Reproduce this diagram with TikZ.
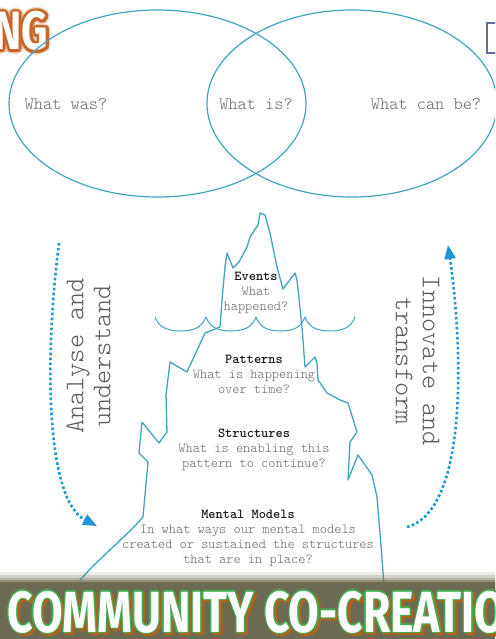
\documentclass[tikz,border=0pt]{standalone}
\usepackage{fontspec}
\setmonofont{Latin Modern Mono Light}
\newfontfamily\bannerfont{Fira Sans}
\usetikzlibrary{arrows.meta,calc}

\definecolor{ice}{RGB}{66,164,188}
\definecolor{flow}{RGB}{28,150,212}
\definecolor{label}{RGB}{100,100,100}
\definecolor{head}{RGB}{25,25,25}
\definecolor{rust}{RGB}{200,102,38}
\definecolor{olive}{RGB}{108,106,80}
\definecolor{leaf}{RGB}{70,170,80}
\definecolor{shade}{RGB}{170,100,30}
\definecolor{slate}{RGB}{96,110,150}

\newcommand\headword{\bannerfont\bfseries\fontsize{54}{54}\selectfont\scalebox{0.76}[1]{NG}}
\newcommand\bannerword{\bannerfont\bfseries\fontsize{58}{58}\selectfont\scalebox{0.765}[1]{COMMUNITY CO-CREATIO}}

\begin{document}
\begin{tikzpicture}[x=1pt,y=-1pt,
  outline/.style={draw=ice, line width=1.3pt, line join=round},
  question/.style={font=\ttfamily\fontsize{17.5}{20}\selectfont, text=label},
  level/.style={font=\ttfamily\fontsize{13.7}{15}\selectfont, text=label, align=center},
  aside/.style={font=\ttfamily\fontsize{27}{27}\selectfont, text=label!90!black, align=center},
  flowline/.style={draw=flow, line width=2.6pt, dash pattern=on 2.6pt off 2.4pt,
    -{Triangle[length=14pt,width=11pt]}}]
\useasboundingbox (0,0) rectangle (495,639);
\clip (0,0) rectangle (495,639);
\fill[white] (0,0) rectangle (495,639);

\coordinate (P) at (157.5,103.5);
\coordinate (F) at (352,103.5);
\coordinate (a1) at (59,243);
\coordinate (a2) at (97,526);
\coordinate (b1) at (407,527);
\coordinate (b2) at (448,245);
\coordinate (ng) at (52,50);
\coordinate (cc) at (4,632);

\foreach \a in {0,30,...,330}
  \node[anchor=base east, text=rust!45, opacity=0.5] (glow\a) at ($(ng)+(\a:4.5)$) {\headword};
\foreach \a in {0,30,...,330}
  \node[anchor=base east, text=rust] (rim\a) at ($(ng)+(\a:2.4)$) {\headword};
\node[anchor=base east, text=white] (title) at (ng) {\headword};

\draw[slate, line width=1.6pt, fill=white] (487,23) rectangle (510,53);

\draw[outline, line width=1.2pt] (P) ellipse [x radius=148.5, y radius=93.5];
\draw[outline, line width=1.2pt] (F) ellipse [x radius=145, y radius=93.5];
\node[question] (was) at (66,104) {What was?};
\node[question] (is) at (256,104) {What is?};
\node[question] (canbe) at (426,104) {What can be?};

\draw[outline] (80,580) -- (92,567) -- (133,528) -- (143,517) -- (148,462) -- (139,453)
  -- (142,422) -- (159,443) -- (167,432) -- (166,395) -- (170,362) -- (187,372)
  -- (205,333) -- (220,327) -- (222,300) -- (225,267) -- (227,253) -- (233,268)
  -- (239,262) -- (247,247) -- (250,237) -- (258,225) -- (260,213) -- (265,215)
  -- (270,233) -- (277,267) -- (283,289) -- (295,273) -- (297,280) -- (302,327)
  -- (305,367) -- (315,357) -- (317,363) -- (318,380) -- (327,393) -- (340,400)
  -- (348,403) -- (357,432) -- (350,442) -- (348,480) -- (358,455) -- (372,475)
  -- (377,497) -- (380,533) -- (384,585);

\foreach \a/\b in {155/206,206/256,256/305,305/355}
  \draw[outline, line width=1pt] (\a,317) .. controls (\a+4,328) and ({(\a+\b)/2-12},331)
    .. ({(\a+\b)/2},331) .. controls ({(\a+\b)/2+12},331) and (\b-4,328) .. (\b,317);

\node[level] (events) at (256,293) {{\bfseries\color{head}Events}\\What\\happened?};
\node[level] (patterns) at (254,374) {{\bfseries\color{head}Patterns}\\What is happening\\over time?};
\node[level] (structures) at (254,450) {{\bfseries\color{head}Structures}\\What is enabling this\\pattern to continue?};
\node[level] (models) at (248,538) {{\bfseries\color{head}Mental Models}\\In what ways our mental models\\created or sustained the structures\\that are in place?};

\node[aside, rotate=90] (analyse) at (88.5,356) {Analyse and\\understand};
\node[aside, rotate=-90] (innovate) at (417.5,361) {Innovate and\\transform};

\draw[flowline] (a1) .. controls (44,360) and (46,500) .. (a2);
\draw[flowline] (b1) .. controls (470,510) and (462,340) .. (b2);

\foreach \d/\o in {10/0.12,7/0.2,4/0.3,2/0.45,0/1}
  \fill[olive, opacity=\o, rounded corners=6pt] (-20,582-\d) rectangle (515,660);

\foreach \a in {0,45,...,315}
  \node[anchor=base west, text=shade] (drop\a) at ($(cc)+(2.5,2.5)+(\a:1.2)$) {\bannerword};
\foreach \a in {0,45,...,315}
  \node[anchor=base west, text=leaf] (edge\a) at ($(cc)+(\a:1.3)$) {\bannerword};
\node[anchor=base west, text=white] (banner) at (cc) {\bannerword};
\end{tikzpicture}
\end{document}
